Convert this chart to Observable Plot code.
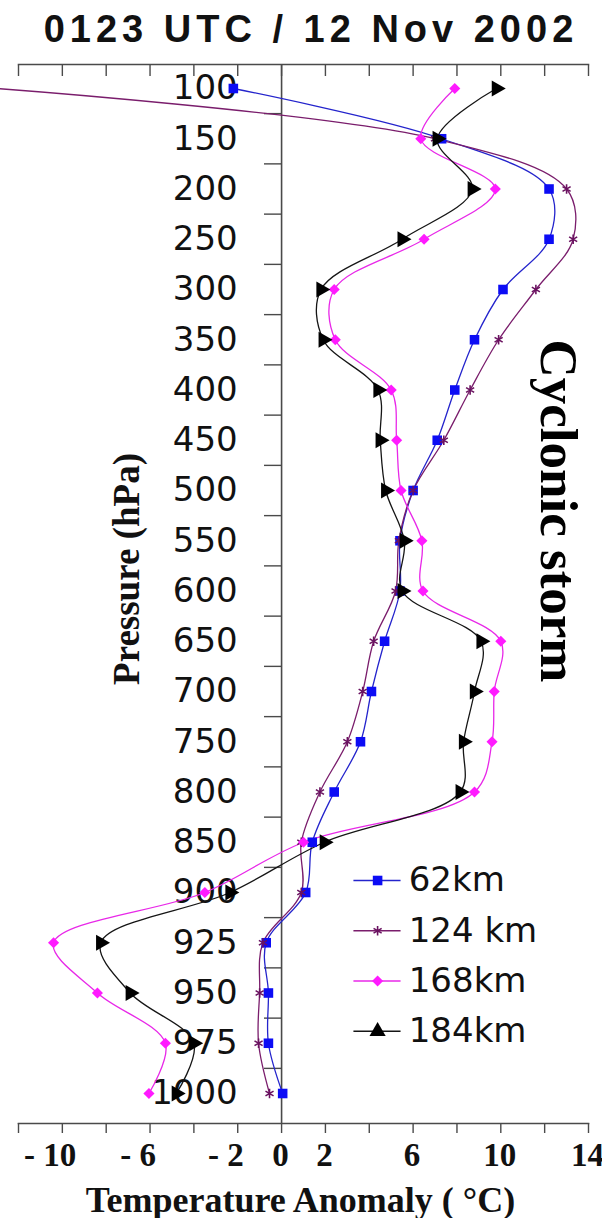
<!DOCTYPE html>
<html>
<head>
<meta charset="utf-8">
<script src="https://cdn.jsdelivr.net/npm/d3@7"></script>
<script src="https://cdn.jsdelivr.net/npm/@observablehq/plot@0.6"></script>
<style>
  body { margin: 0; background: #fff; }
  #title {
    height: 50px; box-sizing: border-box; padding-top: 4px; padding-left: 20px;
    font: bold 38px "Liberation Sans", Arial, sans-serif; line-height: 50px;
    letter-spacing: 5px; text-align: center; color: #111; white-space: nowrap;
  }
  #chart svg { display: block; }
</style>
</head>
<body>
<div id="title">0123 UTC / 12 Nov 2002</div>
<div id="chart"></div>
<script>
// ---------- data ----------
const levels = [100, 150, 200, 250, 300, 350, 400, 450, 500, 550, 600, 650, 700, 750, 800, 850, 900, 925, 950, 975, 1000];
const seriesNames = ["62km", "124 km", "168km", "184km"];
const km62  = [-2.2, 7.3, 12.2, 12.2, 10.1, 8.8, 7.9, 7.1, 6.0, 5.4, 5.4, 4.7, 4.1, 3.6, 2.4, 1.4, 1.1, -0.7, -0.6, -0.6, 0.05];
const km124 = [-13.0, 7.0, 13.0, 13.3, 11.6, 9.9, 8.6, 7.4, 6.0, 5.35, 5.2, 4.2, 3.7, 3.0, 1.75, 0.9, 0.9, -0.85, -1.0, -1.05, -0.55];
const km168 = [7.9, 6.35, 9.75, 6.5, 2.4, 2.45, 5.0, 5.25, 5.45, 6.4, 6.45, 10.0, 9.7, 9.6, 8.8, 1.0, -3.5, -10.4, -8.4, -5.3, -6.05];
const km184 = [9.8, 7.1, 8.7, 5.5, 1.8, 1.9, 4.4, 4.5, 4.75, 5.6, 5.5, 9.1, 8.8, 8.3, 8.15, 1.95, -2.35, -8.25, -6.9, -4.0, -4.8];
const seriesValues = [km62, km124, km168, km184];
const xTickValues = [-12, -10, -8, -6, -4, -2, 0, 2, 4, 6, 8, 10, 12, 14];
const xLabelValues = [-10, -6, -2, 0, 2, 6, 10, 14];
const legendLevels = [900, 925, 950, 975];
const yTitle = "Pressure (hPa)";
const xTitle = "Temperature Anomaly ( °C)";
const annotation = "Cyclonic storm";

// ---------- styles ----------
const lineColors = ["#2424cc", "#7a1d6c", "#e828e8", "#151515"];
const markColors = ["#0c0cf5", "#6a1260", "#ff1aff", "#000000"];
const symbols = ["square", "asterisk", "diamond2", "triangle"];
const rotations = [0, 0, 0, 90];
const radii = [5.4, 4.4, 5, 6];
const axisColor = "#4a4a4a";
const serif = "Liberation Serif";

// ---------- build ----------
const rows = [];
seriesNames.forEach((s, k) => levels.forEach((p, i) => rows.push({series: s, k, p, i, t: seriesValues[k][i]})));
const xDomain = [xTickValues[0], xTickValues[xTickValues.length - 1]];
const yTickIdx = levels.slice(1).map((_, i) => i + 0.5);

const marks = [
  Plot.frame({anchor: "top", stroke: axisColor, strokeWidth: 1.6}),
  Plot.frame({anchor: "bottom", stroke: axisColor, strokeWidth: 1.6}),
  Plot.axisX(xTickValues, {anchor: "top", label: null, tickSize: 11, dy: 11, tickFormat: () => "", stroke: axisColor, strokeWidth: 1.4}),
  Plot.axisX(xTickValues, {anchor: "bottom", label: null, tickSize: 10, tickFormat: () => "", stroke: axisColor, strokeWidth: 1.4}),
  Plot.ruleX([0], {stroke: axisColor, strokeWidth: 1.6}),
  Plot.ruleY(yTickIdx, {y: d => d, x1: -0.78, x2: 0, stroke: axisColor, strokeWidth: 1.4}),
  // pressure labels
  Plot.text(levels, {x: -2, y: (d, i) => i, text: d => String(d), textAnchor: "end", lineAnchor: "middle",
    fontSize: 34, fontFamily: "DejaVu Sans", fill: "#111"}),
  // x tick labels
  Plot.text(xLabelValues.filter(v => v >= 0), {x: d => d, frameAnchor: "bottom", dy: 32, dx: -1, text: d => String(d),
    textAnchor: "middle", lineAnchor: "middle", fontSize: 33, fontWeight: "bold", fontFamily: serif, fill: "#111"}),
  Plot.text(xLabelValues.filter(v => v <= -10), {x: d => d, frameAnchor: "bottom", dy: 32, dx: 14, textAnchor: "end",
    lineAnchor: "middle", text: d => "- " + Math.abs(d), fontSize: 33, fontWeight: "bold", fontFamily: serif, fill: "#111"}),
  Plot.text(xLabelValues.filter(v => v < 0 && v > -10), {x: d => d, frameAnchor: "bottom", dy: 32, dx: 6, textAnchor: "end",
    lineAnchor: "middle", text: d => "- " + Math.abs(d), fontSize: 33, fontWeight: "bold", fontFamily: serif, fill: "#111"}),
  // titles
  Plot.text([xTitle], {frameAnchor: "bottom", dx: -3, dy: 77, textAnchor: "middle", lineAnchor: "middle",
    fontSize: 36, fontWeight: "bold", fontFamily: serif, fill: "#111"}),
  Plot.text([yTitle], {frameAnchor: "left", dx: 109, dy: -25, rotate: -90, textAnchor: "middle", lineAnchor: "middle",
    fontSize: 37, fontWeight: "bold", fontFamily: serif, fill: "#111"}),
  Plot.text([annotation], {frameAnchor: "right", dx: -31, dy: -83, rotate: 90, textAnchor: "middle", lineAnchor: "middle",
    fontSize: 53, fontWeight: "bold", fontFamily: serif, fill: "#000"})
];

seriesNames.forEach((s, k) => {
  const data = rows.filter(d => d.k === k);
  marks.push(Plot.line(data, {x: "t", y: "i", stroke: lineColors[k], strokeWidth: 1.3, curve: "catmull-rom"}));
});
seriesNames.forEach((s, k) => {
  const data = rows.filter(d => d.k === k && d.t >= xDomain[0]);
  const isStroke = symbols[k] === "asterisk";
  marks.push(Plot.dot(data, {x: "t", y: "i", symbol: symbols[k], r: radii[k], rotate: rotations[k],
    fill: isStroke ? "none" : markColors[k], stroke: isStroke ? markColors[k] : "none", strokeWidth: isStroke ? 1.6 : 0}));
});
// legend
seriesNames.forEach((s, k) => {
  const li = levels.indexOf(legendLevels[k]);
  const isStroke = symbols[k] === "asterisk";
  marks.push(
    Plot.ruleY([li], {y: d => d, x1: 3.3, x2: 5.45, dy: -12, stroke: lineColors[k], strokeWidth: 1.5}),
    Plot.dot([li], {x: 4.38, y: d => d, dy: -12, symbol: symbols[k], r: radii[k],
      fill: isStroke ? "none" : markColors[k], stroke: isStroke ? markColors[k] : "none", strokeWidth: isStroke ? 1.6 : 0}),
    Plot.text([s], {x: 5.8, y: li, dy: -12, textAnchor: "start", lineAnchor: "middle", fontSize: 34,
      fontFamily: "DejaVu Sans", fill: "#111"})
  );
});

const chart = Plot.plot({
  width: 602, height: 1168,
  marginLeft: 18, marginRight: 14, marginTop: 14, marginBottom: 95,
  x: {domain: xDomain, axis: null},
  y: {domain: [0, levels.length - 1], reverse: true, insetTop: 24, insetBottom: 30, axis: null},
  style: {background: "white", overflow: "visible"},
  marks
});
document.getElementById("chart").append(chart);
</script>
</body>
</html>
